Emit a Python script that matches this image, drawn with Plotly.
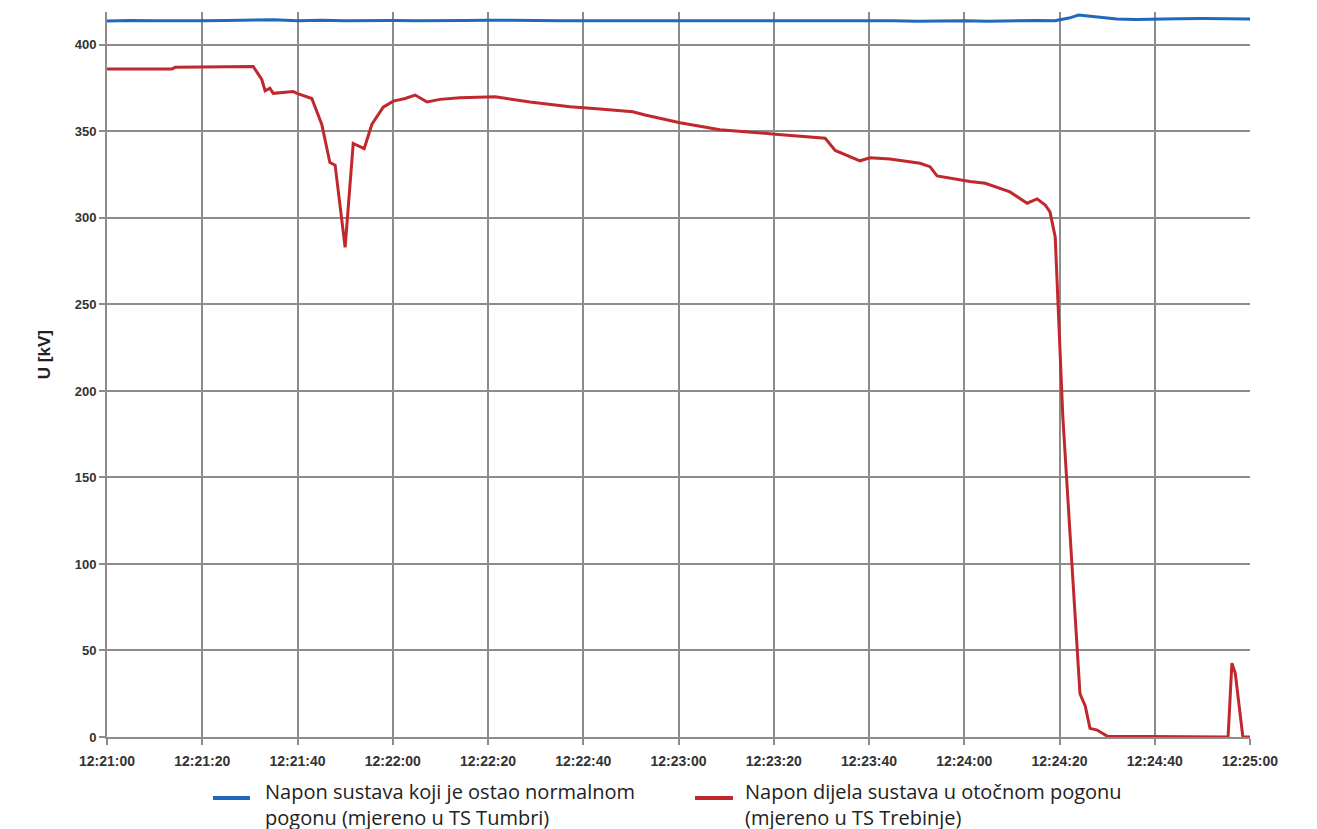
import plotly.graph_objects as go

# seconds after 12:21:00
red_t = [0, 13.6, 14.3, 30.7, 32.5, 33.2, 34.2, 34.9, 39.1, 39.9, 43.0, 45.1, 46.8, 47.9,
         50.0, 51.7, 54.0, 55.6, 58.0, 60.1, 62.6, 64.7, 67.2, 69.9, 74.1, 81.5, 88.8,
         97.2, 103.5, 110.4, 113.0, 120.3, 124.5, 128.7, 140.3, 147.6, 150.8, 152.9,
         158.1, 160.2, 164.4, 170.7, 172.8, 174.3, 177.0, 181.2, 184.4, 187.5, 189.6,
         193.2, 195.3, 197.0, 198.0, 199.1, 199.5, 200.7, 202.2, 203.5, 204.3, 205.4,
         206.4, 207.9, 210.0, 235.4, 236.2, 236.9, 238.5, 240]
red_v = [386, 386, 387, 387.5, 380, 373.5, 375, 372, 373, 372, 369, 354, 332, 330.5,
         283, 343, 340, 354, 364, 367.5, 369, 371, 367, 368.5, 369.5, 370, 367,
         364.3, 363, 361.3, 359.5, 355, 353, 351, 348.4, 347, 346, 339,
         333, 334.7, 334, 331.6, 329.6, 324.3, 323, 321, 320, 317, 315,
         308.5, 311, 307.5, 303.5, 289, 265, 185, 118, 60, 25, 18,
         5, 4, 0.5, 0, 42.7, 37, 0, 0]

blue_t = [0, 5, 10, 15, 20, 25, 30, 35, 40, 45, 50, 55, 60, 65, 70, 75, 80, 85, 90,
          95, 100, 105, 110, 115, 120, 125, 130, 135, 140, 145, 150, 155, 160, 165,
          170, 175, 180, 185, 190, 195, 199, 202, 204, 206, 208, 212, 216, 220, 225,
          230, 235, 240]
blue_v = [413.8, 414.1, 413.9, 413.8, 413.9, 414.1, 414.2, 414.5, 414.0, 414.3, 414.0,
          414.2, 414.1, 414.0, 413.9, 414.1, 414.3, 414.0, 414.1, 414.0, 414.0, 414.1,
          414.0, 414.0, 414.1, 414.0, 413.8, 414.2, 414.0, 414.1, 414.0, 413.9, 414.1,
          413.9, 413.7, 413.9, 414.0, 413.6, 413.9, 414.1, 414.0, 415.5, 417.2, 416.6,
          415.8, 415.0, 414.6, 415.0, 415.1, 415.2, 415.0, 415.0]

tick_vals = [0, 20, 40, 60, 80, 100, 120, 140, 160, 180, 200, 220, 240]
tick_text = ["12:21:00", "12:21:20", "12:21:40", "12:22:00", "12:22:20", "12:22:40",
             "12:23:00", "12:23:20", "12:23:40", "12:24:00", "12:24:20", "12:24:40",
             "12:25:00"]
y_ticks = [0, 50, 100, 150, 200, 250, 300, 350, 400]

blue_name = ["Napon sustava koji je ostao normalnom", "pogonu (mjereno u TS Tumbri)"]
red_name = ["Napon dijela sustava u otočnom pogonu", "(mjereno u TS Trebinje)"]
y_title = "U [kV]"
blue_color = "#1f68bb"
red_color = "#c0282d"

fig = go.Figure()
fig.add_trace(go.Scatter(x=blue_t, y=blue_v, mode="lines", name=" ".join(blue_name),
                         line=dict(color=blue_color, width=3)))
fig.add_trace(go.Scatter(x=red_t, y=red_v, mode="lines", name=" ".join(red_name),
                         line=dict(color=red_color, width=3)))

# legend drawn below the plot (key line + two-line label per series)
legend_font = dict(family="Open Sans", size=20, color="#222222")
shapes = [
    dict(type="line", xref="paper", yref="paper", x0=0.0927, x1=0.1251,
         y0=-0.0840, y1=-0.0840, line=dict(color=blue_color, width=4)),
    dict(type="line", xref="paper", yref="paper", x0=0.5144, x1=0.5477,
         y0=-0.0840, y1=-0.0840, line=dict(color=red_color, width=4)),
]
annotations = [
    dict(text=y_title, xref="paper", yref="paper", x=-0.054, y=0.527,
         xanchor="center", yanchor="middle", textangle=-90, showarrow=False,
         font=dict(size=17, weight="bold", color="#222222")),
]
for x_pos, label in [(0.1365, blue_name), (0.5564, red_name)]:
    annotations.append(dict(text="<br>".join(label), xref="paper", yref="paper",
                            x=x_pos, y=-0.0535, xanchor="left", yanchor="top",
                            align="left", showarrow=False, font=legend_font))

grid = "#8c8c8c"
fig.update_layout(
    width=1309, height=821,
    margin=dict(l=99, r=67, t=4, b=92, autoexpand=False),
    plot_bgcolor="white", paper_bgcolor="white",
    font=dict(family="Liberation Sans, Arial", color="#333333"),
    showlegend=False,
    xaxis=dict(range=[0, 240], tickvals=tick_vals, ticktext=tick_text,
               showgrid=True, gridcolor=grid, gridwidth=2,
               ticks="outside", ticklen=6, tickcolor=grid, tickwidth=2,
               showline=True, linecolor=grid, linewidth=2, ticklabelstandoff=4,
               tickfont=dict(size=14, weight="bold", color="#333333"), zeroline=False),
    yaxis=dict(range=[0, 419], tickvals=y_ticks,
               showgrid=True, gridcolor=grid, gridwidth=2,
               ticks="outside", ticklen=6, tickcolor=grid, tickwidth=2,
               showline=True, linecolor=grid, linewidth=2,
               tickfont=dict(size=13, weight="bold", color="#333333"), zeroline=False),
    shapes=shapes,
    annotations=annotations,
)

fig.write_html("out.html")
